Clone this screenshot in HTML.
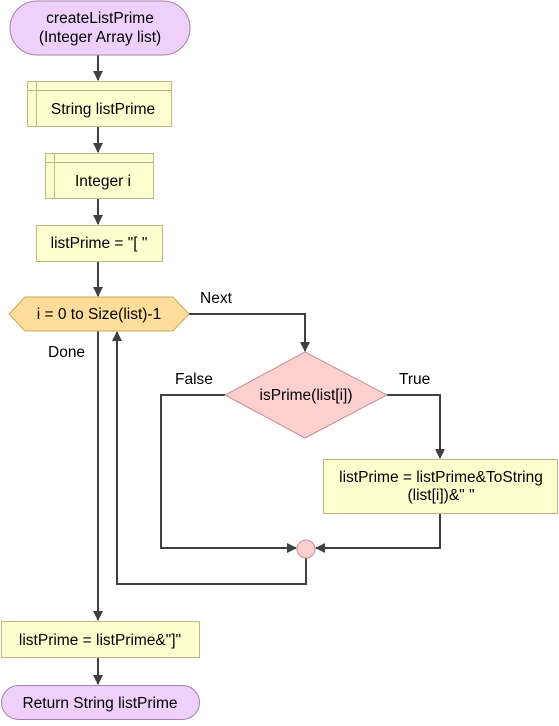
<!DOCTYPE html>
<html><head><style>
html,body{margin:0;padding:0;background:#fff;}
svg text{font-family:"Liberation Sans",Arial,sans-serif;font-size:15.5px;fill:#000;}
</style></head><body>
<svg width="559" height="721" viewBox="0 0 559 721" xmlns="http://www.w3.org/2000/svg">
<defs><marker id="a" markerWidth="10" markerHeight="10" refX="9" refY="5" orient="auto" markerUnits="userSpaceOnUse"><path d="M0,0 L10,5 L0,10 Z" fill="#404040"/></marker></defs>
<g stroke="#404040" stroke-width="2" fill="none">
<line x1="98" y1="55" x2="98" y2="80" marker-end="url(#a)"/>
<line x1="98" y1="127" x2="98" y2="152" marker-end="url(#a)"/>
<line x1="98" y1="199" x2="98" y2="224" marker-end="url(#a)"/>
<line x1="98" y1="261" x2="98" y2="296" marker-end="url(#a)"/>
<polyline points="189,314 305,314 305,351" marker-end="url(#a)"/>
<polyline points="387,395 440,395 440,458" marker-end="url(#a)"/>
<polyline points="440,513 440,548 316,548" marker-end="url(#a)"/>
<polyline points="225,395 161,395 161,548 296,548" marker-end="url(#a)"/>
<polyline points="306,558 306,584 117,584 117,332" marker-end="url(#a)"/>
<line x1="98" y1="330" x2="98" y2="620" marker-end="url(#a)"/>
<line x1="98" y1="657" x2="98" y2="684" marker-end="url(#a)"/>
</g>
<rect x="10" y="1" width="180" height="54" rx="27" fill="#eed0fb" stroke="#a580b0"/>
<text x="100" y="23" text-anchor="middle">createListPrime</text>
<text x="100" y="42" text-anchor="middle">(Integer Array list)</text>
<rect x="27.5" y="81.5" width="144" height="45" fill="#fefece" stroke="#b8b884"/>
<line x1="36.5" y1="81.5" x2="36.5" y2="126.5" stroke="#b8b884"/>
<line x1="27.5" y1="90.5" x2="171.5" y2="90.5" stroke="#b8b884"/>
<text x="103" y="114" text-anchor="middle">String listPrime</text>
<rect x="45.5" y="153.5" width="108" height="45" fill="#fefece" stroke="#b8b884"/>
<line x1="54.5" y1="153.5" x2="54.5" y2="198.5" stroke="#b8b884"/>
<line x1="45.5" y1="162.5" x2="153.5" y2="162.5" stroke="#b8b884"/>
<text x="103" y="186" text-anchor="middle">Integer i</text>
<rect x="36.5" y="225.5" width="126" height="36" fill="#fefece" stroke="#b8b884"/>
<text x="99" y="248" text-anchor="middle">listPrime = "[ "</text>
<polygon points="9,314 25,297 173,297 189,314 173,331 25,331" fill="#fedd9b" stroke="#c8a860"/>
<text x="99" y="319" text-anchor="middle">i = 0 to Size(list)-1</text>
<text x="200" y="303">Next</text>
<text x="48" y="357">Done</text>
<polygon points="305,352 387,395 305,438 225,395" fill="#fdd0d0" stroke="#c89090"/>
<text x="306" y="400" text-anchor="middle">isPrime(list[i])</text>
<text x="175" y="384">False</text>
<text x="399" y="384">True</text>
<rect x="323.5" y="459.5" width="234" height="54" fill="#fefece" stroke="#b8b884"/>
<text x="441" y="482" text-anchor="middle">listPrime = listPrime&amp;ToString</text>
<text x="441" y="500" text-anchor="middle">(list[i])&amp;" "</text>
<circle cx="306" cy="549" r="9" fill="#fdd0d0" stroke="#c89090"/>
<rect x="1.5" y="621.5" width="198" height="36" fill="#fefece" stroke="#b8b884"/>
<text x="100" y="645" text-anchor="middle">listPrime = listPrime&amp;"]"</text>
<rect x="1.5" y="685.5" width="198" height="34" rx="17" fill="#eed0fb" stroke="#a580b0"/>
<text x="100" y="708" text-anchor="middle">Return String listPrime</text>
</svg>
</body></html>
